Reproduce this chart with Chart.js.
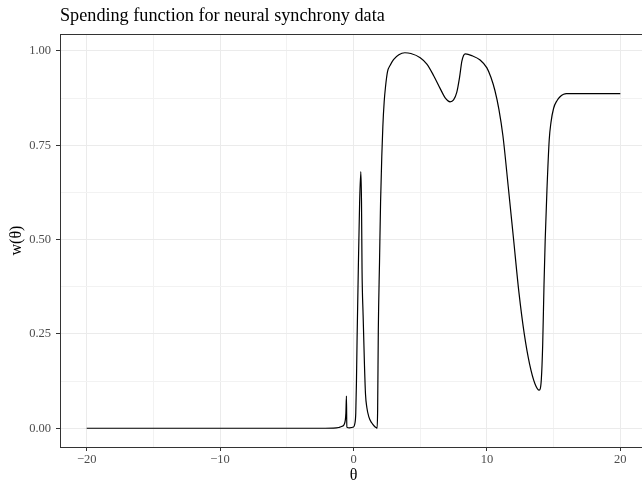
<!DOCTYPE html>
<html>
<head>
<meta charset="utf-8">
<title>Spending function</title>
<script src="https://cdn.jsdelivr.net/npm/chart.js@4.4.0/dist/chart.umd.min.js"></script>
<style>
  html, body { margin: 0; padding: 0; background: #fff; overflow: hidden; }
  #spending-chart { display: block; }
</style>
</head>
<body>
<canvas id="spending-chart" width="647" height="481"></canvas>
<script>
// values
const thetaValues = [
  -20, -10, -3, -1.5, -1.1, -0.85, -0.7, -0.62, -0.57, -0.53, -0.5, -0.3, 0.0, 0.1,
  0.17, 0.22, 0.27, 0.36, 0.46, 0.55, 0.6, 0.64, 0.72, 0.82, 0.9, 1.0, 1.15, 1.35, 1.55, 1.72,
  1.77, 1.81, 1.86, 1.95, 2.03, 2.12, 2.2, 2.3, 2.4, 2.55, 2.75, 3.0, 3.4, 3.85, 4.3, 5.0,
  5.5, 6.0, 6.5, 6.9, 7.24, 7.5, 7.74, 7.95, 8.12, 8.25, 8.4, 8.9, 9.49, 10.0, 10.3, 10.6,
  10.9, 11.2, 11.6, 12.0, 12.4, 12.8, 13.2, 13.6, 13.92, 14.08, 14.18, 14.28, 14.37,
  14.5, 14.67, 14.8, 15.0, 15.25, 15.5, 15.75, 15.95, 20
];
const spendingValues = [
  0, 0, 0, 0.0005, 0.002, 0.005, 0.01, 0.02, 0.04, 0.085, 0.003, 0.001, 0.003, 0.012,
  0.04, 0.12, 0.24, 0.42, 0.6, 0.68, 0.6, 0.42, 0.3, 0.17, 0.09, 0.055, 0.03, 0.015, 0.006, 0.001,
  0.0, 0.05, 0.26, 0.44, 0.6, 0.72, 0.8, 0.865, 0.905, 0.945, 0.962, 0.977, 0.99, 0.995, 0.993, 0.982,
  0.965, 0.935, 0.9, 0.874, 0.865, 0.87, 0.89, 0.93, 0.972, 0.988, 0.992, 0.987, 0.976, 0.955, 0.93, 0.895,
  0.845, 0.775, 0.64, 0.5, 0.36, 0.25, 0.17, 0.118, 0.101, 0.13, 0.22, 0.38, 0.5,
  0.631, 0.764, 0.81, 0.848, 0.868, 0.879, 0.885, 0.887, 0.887
];

const xTickValues = [-20, -10, 0, 10, 20];
const xMinorValues = [-15, -5, 5, 15];
const yTickValues = [0, 0.25, 0.5, 0.75, 1];
const yMinorValues = [0.125, 0.375, 0.625, 0.875];

const chartTitle = "Spending function for neural synchrony data";
const SERIF = "'Liberation Serif', 'DejaVu Serif', serif";

const points = thetaValues.map((t, i) => ({ x: t, y: spendingValues[i] }));

function fmtX(v) {
  return v < 0 ? "\u2212" + Math.abs(v) : String(v);
}

const panelPlugin = {
  id: "panel",
  beforeDraw(chart) {
    const ctx = chart.ctx;
    ctx.save();
    ctx.fillStyle = "#ffffff";
    ctx.fillRect(0, 0, chart.width, chart.height);
    ctx.restore();
  },
  afterDraw(chart) {
    const { ctx, chartArea } = chart;
    ctx.save();
    ctx.strokeStyle = "#333333";
    ctx.lineWidth = 1;
    ctx.strokeRect(chartArea.left + 0.5, chartArea.top + 0.5,
      chartArea.right - chartArea.left - 1, chartArea.bottom - chartArea.top);
    ctx.fillStyle = "#000000";
    ctx.font = "18.2px " + SERIF;
    ctx.textBaseline = "alphabetic";
    ctx.textAlign = "left";
    ctx.fillText(chartTitle, chartArea.left, 21);
    ctx.restore();
  }
};

const gridStyle = {
  color: (c) => (c.tick && c.tick.major ? "#EBEBEB" : "#F2F2F2"),
  lineWidth: 1,
  tickLength: 4,
  tickWidth: 1,
  tickColor: (c) => (c.tick && c.tick.major ? "#333333" : "rgba(0,0,0,0)")
};

const config = {
  type: "line",
  data: {
    datasets: [{
      data: points,
      borderColor: "#000000",
      borderWidth: 1.2,
      pointRadius: 0,
      fill: false,
      cubicInterpolationMode: "monotone"
    }]
  },
  options: {
    responsive: false,
    animation: false,
    devicePixelRatio: 1,
    layout: { padding: { top: 34, left: 0, right: 0, bottom: 0 } },
    plugins: {
      legend: { display: false },
      tooltip: { enabled: false },
      title: { display: false }
    },
    scales: {
      x: {
        type: "linear",
        min: -22,
        max: 22,
        afterBuildTicks(scale) {
          scale.ticks = xTickValues.map(v => ({ value: v, major: true }))
            .concat(xMinorValues.map(v => ({ value: v, major: false })));
        },
        afterFit(scale) { scale.height = 34; },
        border: { display: false },
        grid: gridStyle,
        ticks: {
          autoSkip: false,
          maxRotation: 0,
          padding: 1,
          color: "#4D4D4D",
          font: { family: SERIF, size: 12.5 },
          callback: (v) => (xTickValues.includes(v) ? fmtX(v) : "")
        },
        title: {
          display: true,
          text: "\u03b8",
          color: "#000000",
          font: { family: SERIF, size: 16, lineHeight: 1 },
          padding: { top: 0, bottom: -3 }
        }
      },
      y: {
        type: "linear",
        min: -0.04975,
        max: 1.04475,
        afterBuildTicks(scale) {
          scale.ticks = yTickValues.map(v => ({ value: v, major: true }))
            .concat(yMinorValues.map(v => ({ value: v, major: false })));
        },
        afterFit(scale) { scale.width = 60; },
        border: { display: false },
        grid: gridStyle,
        ticks: {
          autoSkip: false,
          padding: 5,
          color: "#4D4D4D",
          font: { family: SERIF, size: 12.5 },
          callback: (v) => (yTickValues.includes(v) ? v.toFixed(2) : "")
        },
        title: {
          display: true,
          text: "w(\u03b8)",
          color: "#000000",
          font: { family: SERIF, size: 16, lineHeight: 1.2 },
          padding: { top: 7, bottom: 0 }
        }
      }
    }
  },
  plugins: [panelPlugin]
};

var ctx_spending = document.getElementById("spending-chart").getContext("2d");
var spendingChart = new Chart(ctx_spending, config);
</script>
</body>
</html>
